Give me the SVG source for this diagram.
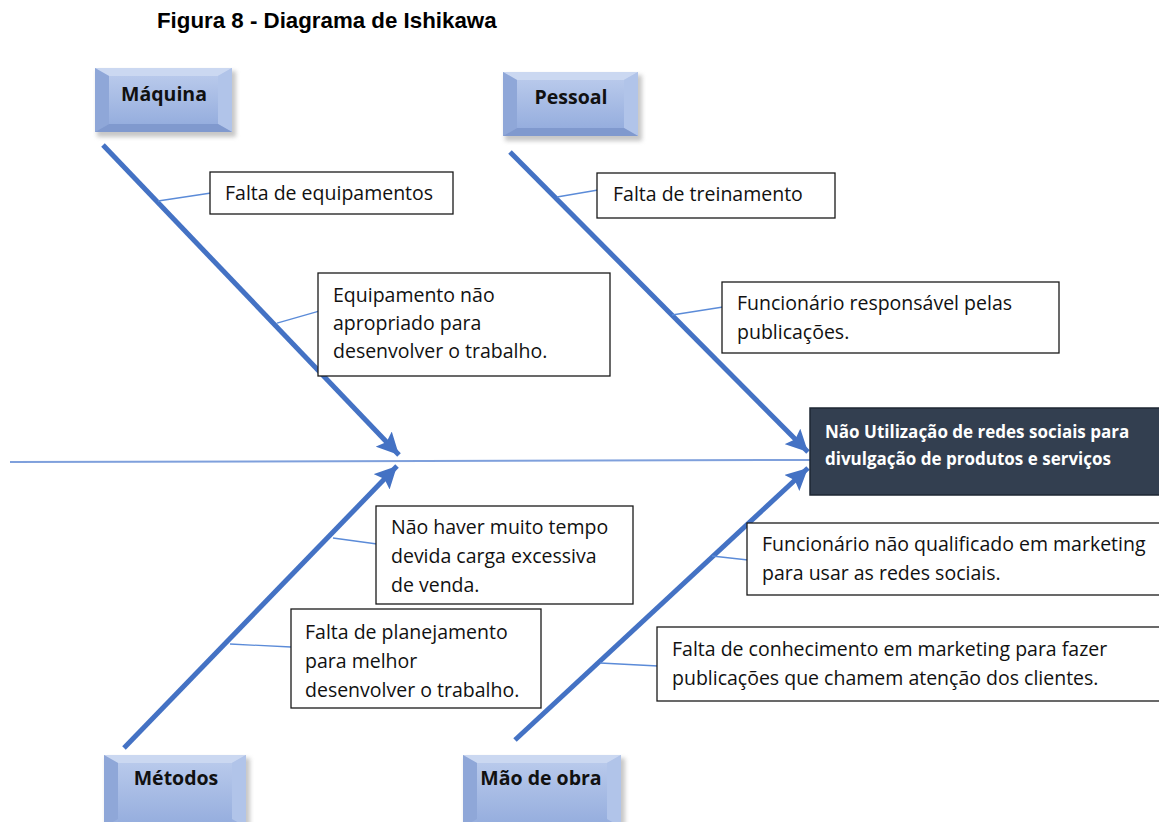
<svg xmlns="http://www.w3.org/2000/svg" width="1159" height="822" viewBox="0 0 1159 822">
<defs>
<style>
.title{font-family:"Liberation Sans",Arial,sans-serif;font-weight:bold;font-size:22.3px;fill:#000}
.cat{font-family:"Open Sans","Noto Sans",sans-serif;font-weight:bold;font-size:19.5px;fill:#111;text-anchor:middle}
.cause{font-family:"Open Sans","Noto Sans",sans-serif;font-size:19.5px;fill:#111}
.effect{font-family:"Open Sans","Noto Sans",sans-serif;font-weight:bold;font-size:17px;fill:#fff}
.box{fill:#fff;stroke:#1a1a1a;stroke-width:1.3}
.bone{stroke:#4472C4;stroke-width:5;fill:none;marker-end:url(#ah)}
.twig{stroke:#5B8BD8;stroke-width:1.3;fill:none}
.spine{stroke:#7FA0DC;stroke-width:2;fill:none}
.face{fill:url(#gFace)}
.bt{fill:#CBD8F1}
.bl{fill:#8FA7D8}
.br{fill:#B1C4E9}
.bb{fill:#8099CE}
.shadow{fill:#9a9a9a;opacity:0.55;filter:url(#blur)}
</style>
<linearGradient id="gFace" x1="0" y1="0" x2="0" y2="1">
<stop offset="0" stop-color="#B8C9EB"/>
<stop offset="1" stop-color="#96AEDE"/>
</linearGradient>
<filter id="blur" x="-20%" y="-20%" width="140%" height="140%"><feGaussianBlur stdDeviation="2"/></filter>
<marker id="ah" markerUnits="userSpaceOnUse" markerWidth="24" markerHeight="22" refX="22" refY="11" orient="auto">
<path d="M0,0 L22,11 L0,22 L4,11 z" fill="#4472C4"/>
</marker>
</defs>
<rect width="1159" height="822" fill="#fff"/>
<text class="title" x="157" y="28">Figura 8 - Diagrama de Ishikawa</text>

<g id="connectors">
<line class="spine" x1="10" y1="462" x2="810" y2="460"/>
<line class="bone" x1="103" y1="145" x2="399" y2="455"/>
<line class="bone" x1="510" y1="152" x2="808" y2="452"/>
<line class="bone" x1="124" y1="748" x2="397" y2="466"/>
<line class="bone" x1="515" y1="740" x2="808" y2="468"/>
<line class="twig" x1="158" y1="201" x2="211" y2="193"/>
<line class="twig" x1="277" y1="323" x2="319" y2="311"/>
<line class="twig" x1="557" y1="197" x2="598" y2="190"/>
<line class="twig" x1="672" y1="315" x2="723" y2="307"/>
<line class="twig" x1="333" y1="538" x2="377" y2="544"/>
<line class="twig" x1="230" y1="644" x2="291" y2="647"/>
<line class="twig" x1="712" y1="556" x2="748" y2="560"/>
<line class="twig" x1="600" y1="663" x2="658" y2="666"/>
</g>

<g id="cat-maquina">
<rect class="shadow" x="97" y="71" width="139" height="66"/>
<rect class="face" x="95" y="68" width="137" height="64"/>
<polygon class="bt" points="95,68 232,68 218,76 109,76"/>
<polygon class="bl" points="95,68 109,76 109,124 95,132"/>
<polygon class="br" points="232,68 232,132 218,124 218,76"/>
<polygon class="bb" points="95,132 109,124 218,124 232,132"/>
<rect x="109" y="76" width="109" height="48" fill="url(#gFace)"/>
<text class="cat" x="164" y="101">Máquina</text>
</g>

<g id="cat-pessoal">
<rect class="shadow" x="505" y="75" width="137" height="66"/>
<rect class="face" x="503" y="72" width="135" height="64"/>
<polygon class="bt" points="503,72 638,72 624,80 517,80"/>
<polygon class="bl" points="503,72 517,80 517,128 503,136"/>
<polygon class="br" points="638,72 638,136 624,128 624,80"/>
<polygon class="bb" points="503,136 517,128 624,128 638,136"/>
<rect x="517" y="80" width="107" height="48" fill="url(#gFace)"/>
<text class="cat" x="571" y="104">Pessoal</text>
</g>

<g id="cat-metodos">
<rect class="shadow" x="106" y="758" width="144" height="72"/>
<rect class="face" x="104" y="755" width="142" height="72"/>
<polygon class="bt" points="104,755 246,755 232,763 118,763"/>
<polygon class="bl" points="104,755 118,763 118,819 104,827"/>
<polygon class="br" points="246,755 246,827 232,819 232,763"/>
<rect x="118" y="763" width="114" height="60" fill="url(#gFace)"/>
<text class="cat" x="176" y="785">Métodos</text>
</g>

<g id="cat-maodeobra">
<rect class="shadow" x="465" y="758" width="160" height="72"/>
<rect class="face" x="463" y="755" width="158" height="72"/>
<polygon class="bt" points="463,755 621,755 607,763 477,763"/>
<polygon class="bl" points="463,755 477,763 477,819 463,827"/>
<polygon class="br" points="621,755 621,827 607,819 607,763"/>
<rect x="477" y="763" width="130" height="60" fill="url(#gFace)"/>
<text class="cat" x="541" y="785">Mão de obra</text>
</g>

<g id="effect">
<rect x="810" y="408" width="352" height="87" fill="#333F50" stroke="#1E2733" stroke-width="1.5"/>
<text class="effect" x="825" y="438">Não Utilização de redes sociais para</text>
<text class="effect" x="825" y="465">divulgação de produtos e serviços</text>
</g>

<g id="c1">
<rect class="box" x="210" y="172" width="243" height="42"/>
<text class="cause" x="225" y="200">Falta de equipamentos</text>
</g>
<g id="c2">
<rect class="box" x="318" y="273" width="292" height="103"/>
<text class="cause" x="333" y="302">Equipamento não</text>
<text class="cause" x="333" y="330">apropriado para</text>
<text class="cause" x="333" y="358">desenvolver o trabalho.</text>
</g>
<g id="c3">
<rect class="box" x="597" y="173" width="238" height="45"/>
<text class="cause" x="613" y="201">Falta de treinamento</text>
</g>
<g id="c4">
<rect class="box" x="722" y="282" width="337" height="71"/>
<text class="cause" x="737" y="310">Funcionário responsável pelas</text>
<text class="cause" x="737" y="339">publicações.</text>
</g>
<g id="c5">
<rect class="box" x="376" y="506" width="257" height="98"/>
<text class="cause" x="391" y="534">Não haver muito tempo</text>
<text class="cause" x="391" y="563">devida carga excessiva</text>
<text class="cause" x="391" y="592">de venda.</text>
</g>
<g id="c6">
<rect class="box" x="291" y="609" width="250" height="99"/>
<text class="cause" x="305" y="639">Falta de planejamento</text>
<text class="cause" x="305" y="668">para melhor</text>
<text class="cause" x="305" y="697">desenvolver o trabalho.</text>
</g>
<g id="c7">
<rect class="box" x="747" y="523" width="420" height="72"/>
<text class="cause" x="762" y="551">Funcionário não qualificado em marketing</text>
<text class="cause" x="762" y="580">para usar as redes sociais.</text>
</g>
<g id="c8">
<rect class="box" x="657" y="627" width="510" height="74"/>
<text class="cause" x="672" y="656">Falta de conhecimento em marketing para fazer</text>
<text class="cause" x="672" y="685">publicações que chamem atenção dos clientes.</text>
</g>
</svg>
